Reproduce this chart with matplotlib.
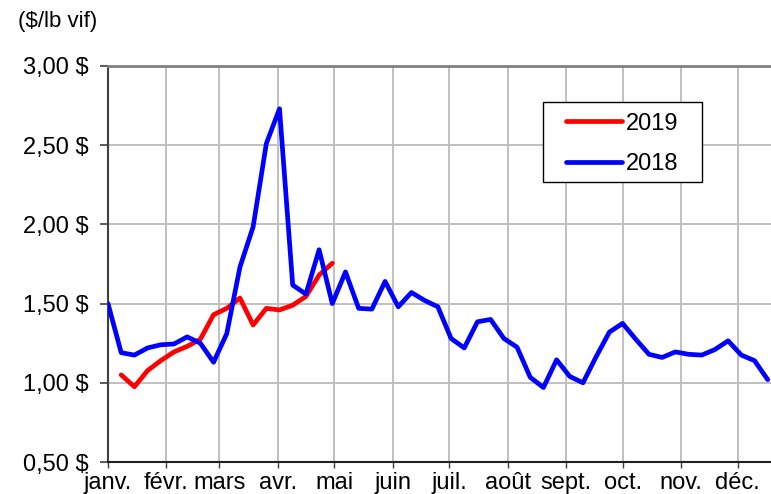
import matplotlib
matplotlib.use("Agg")
import matplotlib.pyplot as plt
import matplotlib.ticker as mticker
from matplotlib.patches import Rectangle
import numpy as np

plt.rcParams['font.family'] = ['Liberation Sans', 'DejaVu Sans']

# ── données (prix hebdomadaires, $/lb vif) ──────────────────────────────────
prix_2018 = [1.50, 1.19, 1.175, 1.22, 1.24, 1.245, 1.29, 1.25, 1.13, 1.31,
             1.73, 1.985, 2.51, 2.73, 1.617, 1.56, 1.84, 1.50, 1.70, 1.47,
             1.465, 1.64, 1.48, 1.57, 1.52, 1.48, 1.28, 1.22, 1.385, 1.40,
             1.28, 1.225, 1.035, 0.97, 1.145, 1.04, 1.00, 1.165, 1.32, 1.375,
             1.275, 1.18, 1.16, 1.195, 1.18, 1.175, 1.21, 1.265, 1.175, 1.14,
             1.02]
prix_2019 = [None, 1.05, 0.975, 1.077, 1.14, 1.195, 1.23, 1.275, 1.43, 1.47,
             1.535, 1.365, 1.47, 1.46, 1.49, 1.545, 1.68, 1.755]

mois = ["janv.", "févr.", "mars", "avr.", "mai", "juin", "juil.", "août",
        "sept.", "oct.", "nov.", "déc."]
debut_mois = [0, 31, 59, 90, 120, 151, 181, 212, 243, 273, 304, 334]  # jour de l'année
y_ticks = [0.5, 1.0, 1.5, 2.0, 2.5, 3.0]

FS = 17

fig = plt.figure(figsize=(7.71, 4.94), dpi=100)
ax = fig.add_axes([108 / 771, 32 / 494, 663 / 771, 396 / 494])

sem_18 = np.arange(len(prix_2018))
sem_19 = np.arange(len(prix_2019))
v19 = np.array([np.nan if v is None else v for v in prix_2019])

ax.plot(sem_19, v19, color="#ff0000", lw=3.4, solid_capstyle="round",
        solid_joinstyle="round", label="2019", zorder=3)
ax.plot(sem_18, prix_2018, color="#0000ff", lw=3.4, solid_capstyle="round",
        solid_joinstyle="round", label="2018", zorder=4)

# axes
ax.set_xlim(0, 50.25)
ax.set_ylim(0.5, 3.0)
ax.set_xticks([d / 7 for d in debut_mois])
ax.set_xticklabels(mois, fontsize=FS)
ax.set_yticks(y_ticks)
ax.yaxis.set_major_formatter(
    mticker.FuncFormatter(lambda v, p: f"{v:.2f}".replace(".", ",") + " $"))
ax.tick_params(axis="y", labelsize=FS, length=6, width=1.2, pad=8,
               color="#404040")
ax.tick_params(axis="x", length=4, width=1.0, pad=3, color="#404040")

ax.grid(True, color="#c0c0c0", lw=1.4, zorder=0)
ax.set_axisbelow(True)

ax.spines["right"].set_visible(False)
ax.spines["top"].set_color("#808080")
ax.spines["top"].set_linewidth(2.0)
ax.spines["left"].set_color("#404040")
ax.spines["left"].set_linewidth(1.5)
ax.spines["bottom"].set_color("#202020")
ax.spines["bottom"].set_linewidth(1.5)

# légende (cadre dessiné à part pour imiter Excel)
x0, x1 = (543 - 108) / 663, (702 - 108) / 663
y0, y1 = (462 - 182) / 396, (462 - 102) / 396
ax.add_patch(Rectangle((x0, y0), x1 - x0, y1 - y0, transform=ax.transAxes,
                       facecolor="white", edgecolor="black", lw=1.0,
                       zorder=5))
leg = ax.legend(loc="center",
                bbox_to_anchor=((x0 + x1) / 2, (y0 + y1) / 2 - 2 / 396),
                frameon=False, fontsize=FS, handlelength=2.35,
                handletextpad=0.2, labelspacing=0.8, borderpad=0.2)
leg.set_zorder(6)

fig.text(18 / 771, 1 - 22 / 494, "($/lb vif)", fontsize=FS - 1, va="center",
         ha="left")

fig.savefig("out.png", dpi=100)
